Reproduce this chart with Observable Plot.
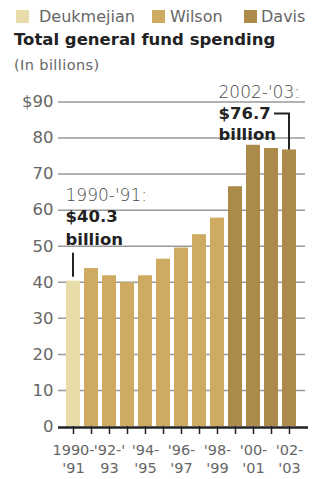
<!DOCTYPE html>
<html>
<head>
<meta charset="utf-8">
<script src="https://cdn.jsdelivr.net/npm/d3@7"></script>
<script src="https://cdn.jsdelivr.net/npm/@observablehq/plot@0.6"></script>
<style>
  html, body { margin: 0; padding: 0; background: #fff; }
  body { position: relative; width: 325px; height: 479px; overflow: hidden; font-family: "DejaVu Sans", sans-serif; }
  .key { position: absolute; top: 8px; height: 17px; display: flex; align-items: center; font-size: 16px; color: #666; white-space: nowrap; }
  .key .sw { display: inline-block; width: 13px; height: 13px; }
  #title { position: absolute; left: 14px; top: 30px; font-size: 16.5px; font-weight: bold; color: #222; white-space: nowrap; }
  #sub { position: absolute; left: 14px; top: 57px; font-size: 14.5px; letter-spacing: 0.4px; color: #666; white-space: nowrap; }
  #chart { position: absolute; left: 0; top: 72px; }
  #chart svg { overflow: visible; }
</style>
</head>
<body>
<div id="legend"></div>
<div id="title">Total general fund spending</div>
<div id="sub">(In billions)</div>
<div id="chart"></div>
<script>
// Fiscal years and general fund spending, in billions of dollars
const years = ["1990-91", "1991-92", "1992-93", "1993-94", "1994-95", "1995-96", "1996-97",
               "1997-98", "1998-99", "1999-00", "2000-01", "2001-02", "2002-03"];
const spending = [40.3, 43.8, 41.8, 39.9, 41.8, 46.4, 49.5, 53.2, 57.8, 66.5, 78.0, 77.1, 76.7];
const governor = ["Deukmejian", "Wilson", "Wilson", "Wilson", "Wilson", "Wilson", "Wilson",
                  "Wilson", "Wilson", "Davis", "Davis", "Davis", "Davis"];

// Governors and their colours
const governors = ["Deukmejian", "Wilson", "Davis"];
const governorColors = ["#e8dcaa", "#cfab61", "#ac8b4a"];

// Axis tick labels
const xLabels = ["1990-\n'91", "", "'92-'\n93", "", "'94-\n'95", "", "'96-\n'97", "",
                 "'98-\n'99", "", "'00-\n'01", "", "'02-\n'03"];
const yTicks = [0, 10, 20, 30, 40, 50, 60, 70, 80, 90];

// Callouts for the first and last fiscal year
const notes = [
  {year: "1990-91", period: "1990-'91:"},
  {year: "2002-03", period: "2002-'03:"}
].map(d => {
  const v = spending[years.indexOf(d.year)];
  return {...d, value: v, amount: `$${v.toFixed(1)}`};
});

const rows = years.map((y, i) => ({year: y, spending: spending[i], governor: governor[i]}));

// Legend
const legendPos = [{sw: 16, tx: 39}, {sw: 152, tx: 170}, {sw: 244, tx: 261}];
const legend = document.getElementById("legend");
governors.forEach((g, i) => {
  const sw = document.createElement("div");
  sw.className = "key";
  sw.style.left = legendPos[i].sw + "px";
  sw.innerHTML = `<span class="sw" style="background:${governorColors[i]}"></span>`;
  legend.appendChild(sw);
  const tx = document.createElement("div");
  tx.className = "key";
  tx.style.left = legendPos[i].tx + "px";
  tx.textContent = g;
  legend.appendChild(tx);
});

// Leader lines from the callouts to their bars
function leaders(index, scales) {
  const x = scales.x, y = scales.y;
  const bw = x.bandwidth ? x.bandwidth() : 15;
  const g = d3.create("svg:g")
    .attr("fill", "none").attr("stroke", "#222").attr("stroke-width", 2);
  const a = notes[0], b = notes[1];
  const xa = x(a.year) + bw / 2, ya = y(a.value);
  g.append("path").attr("d", `M${xa},${ya - 4}V${ya - 28}`);
  const xb = x(b.year) + bw / 2, yb = y(b.value);
  g.append("path").attr("d", `M${xb - 15},${yb - 36}H${xb}V${yb}`);
  return g.node();
}

const calloutLight = {textAnchor: "start", lineAnchor: "bottom", fontSize: 17, fontWeight: 200, fill: "#4a4a4a"};
const calloutBold = {textAnchor: "start", lineAnchor: "bottom", fontSize: 16.5, fontWeight: "bold", fill: "#222"};

const chart = Plot.plot({
  width: 325,
  height: 407,
  marginTop: 29.5,
  marginBottom: 53,
  marginLeft: 58,
  marginRight: 20,
  style: {fontFamily: "\"DejaVu Sans\", sans-serif", background: "transparent", overflow: "visible"},
  x: {domain: years, paddingInner: 0.2, paddingOuter: 0.2, label: null},
  y: {domain: [0, 90], label: null},
  color: {domain: governors, range: governorColors},
  marks: [
    Plot.gridY(yTicks.filter(d => d > 0), {stroke: "#999", strokeOpacity: 1, strokeWidth: 1.5}),
    Plot.axisY(yTicks, {
      tickSize: 0, tickPadding: 5, fontSize: 16.5, fill: "#666", label: null,
      tickFormat: d => d === 90 ? "$90" : String(d)
    }),
    Plot.barY(rows, {x: "year", y: "spending", fill: "governor"}),
    Plot.ruleY([0], {stroke: "#222", strokeWidth: 2.5, dy: 1, insetRight: -3}),
    Plot.axisX({
      tickSize: 8, tickPadding: 8, stroke: "#222", strokeWidth: 1.5,
      fontSize: 14.5, lineHeight: 1.24, fill: "#666", label: null,
      tickFormat: d => xLabels[years.indexOf(d)]
    }),
    // Callout text
    Plot.text([notes[0]], {x: "year", y: "value", text: "period", dx: -8, dy: -80, ...calloutLight}),
    Plot.text([notes[0]], {x: "year", y: "value", text: "amount", dx: -8, dy: -59, ...calloutBold}),
    Plot.text([notes[0]], {x: "year", y: "value", text: () => "billion", dx: -8, dy: -36, ...calloutBold}),
    Plot.text([notes[1]], {x: "year", y: "value", text: "period", dx: -71, dy: -52, ...calloutLight}),
    Plot.text([notes[1]], {x: "year", y: "value", text: "amount", dx: -71, dy: -31, ...calloutBold}),
    Plot.text([notes[1]], {x: "year", y: "value", text: () => "billion", dx: -71, dy: -10, ...calloutBold}),
    leaders
  ]
});
document.getElementById("chart").appendChild(chart);
</script>
</body>
</html>
